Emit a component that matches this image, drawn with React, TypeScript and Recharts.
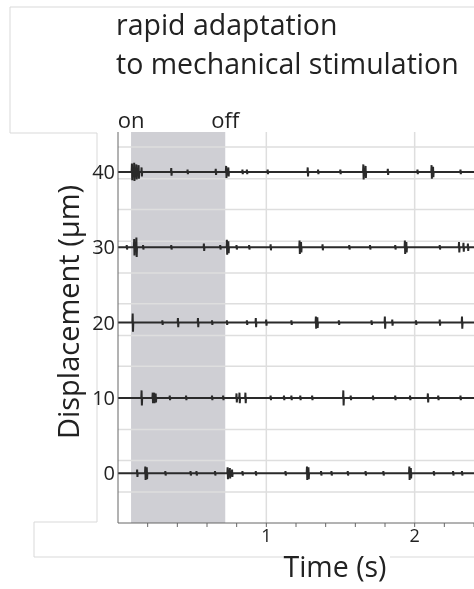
import React from 'react';
import { LineChart, Line, XAxis, YAxis, ReferenceArea, ReferenceLine } from 'recharts';

// stimulus window (s)
const stimOn = 0.088;
const stimOff = 0.723;

// y levels of the five recordings (µm offsets)
const levels = [0, 10, 20, 30, 40];

// spikes: [time s, amplitude]
const spikes0 = [
  [0.13, 0.5], [0.185, 0.9], [0.195, 0.8], [0.32, 0.3], [0.49, 0.3], [0.53, 0.3], [0.655, 0.3],
  [0.74, 0.8], [0.755, 0.7], [0.77, 0.5], [0.84, 0.3], [0.93, 0.3], [1.13, 0.3], [1.275, 0.9],
  [1.285, 0.8], [1.37, 0.3], [1.44, 0.3], [1.55, 0.3], [1.67, 0.3], [1.79, 0.3], [1.965, 0.9],
  [1.975, 0.7], [2.13, 0.3], [2.26, 0.3], [2.32, 0.3],
];
const spikes10 = [
  [0.16, 1.0], [0.235, 0.7], [0.245, 0.7], [0.255, 0.6], [0.35, 0.3], [0.46, 0.3], [0.635, 0.3],
  [0.71, 0.3], [0.8, 0.6], [0.82, 0.7], [0.86, 0.7], [1.03, 0.3], [1.12, 0.3], [1.17, 0.3],
  [1.23, 0.3], [1.31, 0.3], [1.52, 1.0], [1.57, 0.3], [1.72, 0.3], [1.87, 0.3], [1.97, 0.3],
  [2.09, 0.6], [2.16, 0.3], [2.31, 0.3],
];
const spikes20 = [
  [0.1, 1.2], [0.3, 0.3], [0.405, 0.6], [0.54, 0.6], [0.635, 0.3], [0.735, 0.3], [0.87, 0.3],
  [0.93, 0.6], [1.0, 0.4], [1.17, 0.3], [1.335, 0.8], [1.345, 0.7], [1.49, 0.3], [1.71, 0.3],
  [1.8, 0.8], [1.85, 0.4], [2.01, 0.3], [2.17, 0.4], [2.32, 0.8],
];
const spikes30 = [
  [0.06, 0.3], [0.11, 1.1], [0.125, 1.3], [0.17, 0.3], [0.36, 0.3], [0.58, 0.5], [0.69, 0.3],
  [0.735, 1.0], [0.745, 0.8], [0.8, 0.3], [0.885, 0.3], [1.03, 0.4], [1.225, 0.9], [1.235, 0.7],
  [1.38, 0.4], [1.56, 0.3], [1.7, 0.3], [1.87, 0.3], [1.935, 0.9], [1.945, 0.7], [2.17, 0.3],
  [2.3, 0.7], [2.33, 0.6], [2.36, 0.5],
];
const spikes40 = [
  [0.095, 1.1], [0.11, 1.2], [0.125, 1.0], [0.14, 0.9], [0.16, 0.6], [0.36, 0.5], [0.47, 0.3],
  [0.66, 0.4], [0.73, 0.8], [0.745, 0.6], [0.84, 0.3], [0.87, 0.3], [1.01, 0.3], [1.28, 0.6],
  [1.35, 0.3], [1.5, 0.3], [1.655, 1.0], [1.67, 0.8], [1.82, 0.4], [2.02, 0.3], [2.115, 0.9],
  [2.125, 0.7], [2.31, 0.3],
];
const allSpikes = [spikes0, spikes10, spikes20, spikes30, spikes40];

const xTicks = [0.2, 0.4, 0.6, 0.8, 1, 1.2, 1.4, 1.6, 1.8, 2, 2.2, 2.4];
const xLabels = [1, 2];
const yTicks = [0, 10, 20, 30, 40];
const hGrid = [-2.5, 1.7, 5.8, 10, 14.2, 18.3, 22.5, 26.6, 30.8, 35, 39.1, 43.3];

const FONT = '"Open Sans", sans-serif';

function buildTrace(level: number, spikes: number[][]) {
  const pts = [{ t: 0, v: level }];
  spikes.forEach(([t, a]) => {
    pts.push({ t: t - 0.003, v: level });
    pts.push({ t: t - 0.001, v: level + a });
    pts.push({ t: t + 0.001, v: level - a });
    pts.push({ t: t + 0.003, v: level });
  });
  pts.push({ t: 2.4, v: level });
  return pts;
}

const traces = levels.map((lv, i) => buildTrace(lv, allSpikes[i]));

export default function App() {
  return (
    // fixed to the viewport so the right-hand strip past the body box is not clipped
    <div style={{ position: 'fixed', left: 8, top: 8, width: 466, height: 581, fontFamily: FONT }}>
      <svg width={466} height={581} style={{ position: 'absolute', left: 0, top: 0, overflow: 'visible' }}>
        <g stroke="#d9d9d9" strokeWidth={1} fill="none">
          <polyline points="466,-1 2,-1 2,125 89,125 89,514 26,514 26,549 275,549" />
          <line x1={382} y1={549} x2={466} y2={549} />
        </g>
      </svg>
      <div style={{ position: 'absolute', left: 108, top: -3, fontSize: 28.5, lineHeight: '39px', color: '#222', whiteSpace: 'nowrap' }}>
        <div>rapid adaptation</div>
        <div>to mechanical stimulation</div>
      </div>
      <div style={{ position: 'absolute', left: 0, top: 0 }}>
        <LineChart width={466} height={581} margin={{ top: 124, right: 0, bottom: 0, left: 0 }}>
          <ReferenceArea x1={stimOn} x2={stimOff} y1={-6.6} y2={45.3} fill="#cfcfd4" fillOpacity={1} stroke="none" />
          {hGrid.map((g) => (
            <ReferenceLine key={'h' + g} y={g} stroke="#dedede" strokeWidth={1.5} />
          ))}
          {xLabels.map((g) => (
            <ReferenceLine key={'v' + g} x={g} stroke="#dedede" strokeWidth={1.5} />
          ))}
          <ReferenceLine x={stimOn} stroke="none" label={{ value: 'on', position: 'top', fontSize: 22, fill: '#222', fontFamily: FONT, offset: 4 }} />
          <ReferenceLine x={stimOff} stroke="none" label={{ value: 'off', position: 'top', fontSize: 22, fill: '#222', fontFamily: FONT, offset: 4 }} />
          <XAxis
            type="number"
            dataKey="t"
            domain={[0, 2.4]}
            ticks={xTicks}
            interval={0}
            allowDataOverflow
            height={66}
            stroke="#666"
            tickSize={4}
            tickMargin={2}
            tick={{ fontSize: 18, fill: '#222', fontFamily: FONT }}
            tickFormatter={(v: number) => (xLabels.some((l) => Math.abs(l - v) < 1e-6) ? String(Math.round(v)) : '')}
            label={{
              content: ({ viewBox }: any) => (
                <text x={viewBox.x + 217} y={viewBox.y + 54} textAnchor="middle" fontSize={28.5} fill="#222" fontFamily={FONT}>
                  Time (s)
                </text>
              ),
            }}
          />
          <YAxis
            type="number"
            domain={[-6.6, 45.3]}
            ticks={yTicks}
            allowDataOverflow
            width={110}
            stroke="#666"
            tickLine={false}
            tickSize={0}
            tickMargin={3}
            tick={{ fontSize: 20, fill: '#222', fontFamily: FONT }}
            label={{
              content: ({ viewBox }: any) => {
                const cx = viewBox.x + 59;
                const cy = 304;
                return (
                  <text x={cx} y={cy} transform={`rotate(-90 ${cx} ${cy})`} textAnchor="middle" dominantBaseline="central" fontSize={29} fill="#222" fontFamily={FONT}>
                    Displacement (μm)
                  </text>
                );
              },
            }}
          />
          {traces.map((d, i) => (
            <Line
              key={levels[i]}
              data={d}
              dataKey="v"
              type="linear"
              stroke="#2a2a2a"
              strokeWidth={2}
              dot={false}
              isAnimationActive={false}
            />
          ))}
        </LineChart>
      </div>
    </div>
  );
}
